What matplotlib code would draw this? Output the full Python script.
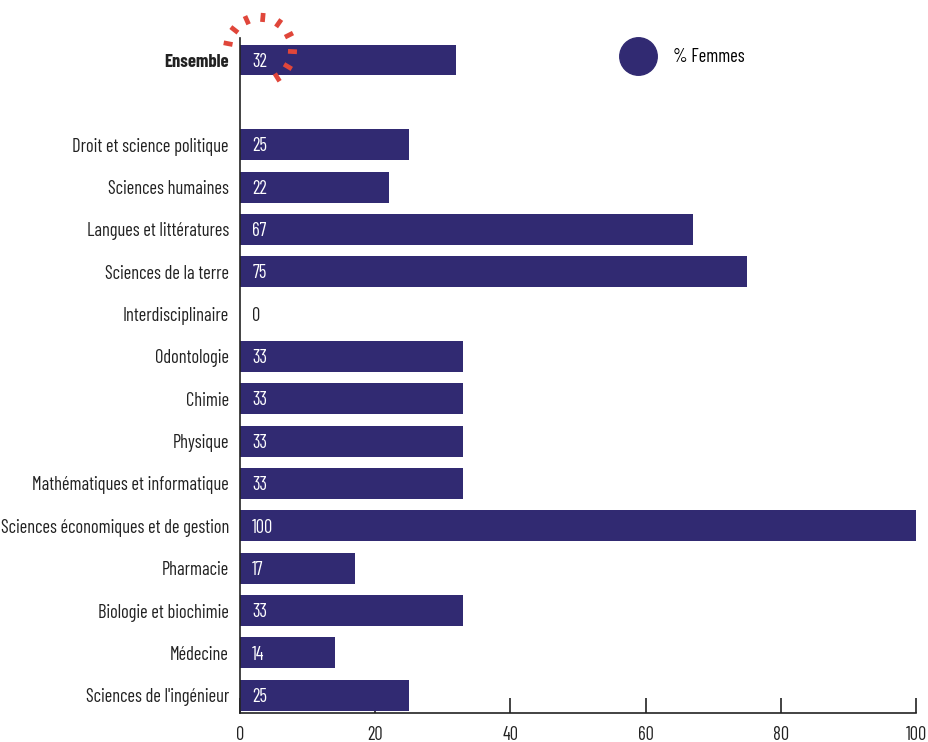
import matplotlib
matplotlib.use("Agg")
import matplotlib.pyplot as plt
from matplotlib.lines import Line2D
import numpy as np

plt.rcParams['font.family'] = ['Barlow Condensed', 'Roboto Condensed', 'DejaVu Sans']

categories = ["Ensemble", "",
              "Droit et science politique", "Sciences humaines", "Langues et littératures",
              "Sciences de la terre", "Interdisciplinaire", "Odontologie", "Chimie",
              "Physique", "Mathématiques et informatique", "Sciences économiques et de gestion",
              "Pharmacie", "Biologie et biochimie", "Médecine", "Sciences de l'ingénieur"]
values = [32, None, 25, 22, 67, 75, 0, 33, 33, 33, 33, 100, 17, 33, 14, 25]
xticks = [0, 20, 40, 60, 80, 100]
legend_label = "% Femmes"

bar_color = "#312a72"
red = "#e0463a"
text_color = "#222222"
fs = 13.3

fig = plt.figure(figsize=(9.29, 7.42), dpi=100)
ax = fig.add_axes([240/929, 1-713/742, (916-240)/929, (713-38)/742])

pos = np.arange(len(categories))
for p, v in zip(pos, values):
    if v is None:
        continue
    ax.barh(p, v, height=0.73, color=bar_color, zorder=2)
    ax.text(1.8, p + 0.04, f"{v}", color=("white" if v > 0 else text_color),
            fontsize=fs, va="center", ha="left", zorder=3)

ax.set_ylim(15.42, -0.52)
ax.set_xlim(0, 100)
ax.set_yticks([p for p, v in zip(pos, values) if v is not None])
ax.set_yticklabels([c for c, v in zip(categories, values) if v is not None])
for lbl in ax.get_yticklabels():
    lbl.set_fontsize(fs)
    lbl.set_color(text_color)
    if lbl.get_text() == "Ensemble":
        lbl.set_fontweight("bold")
ax.tick_params(axis="y", length=0, pad=8)
ax.set_xticks(xticks)
ax.set_xticklabels([str(t) for t in xticks])
ax.tick_params(axis="x", direction="in", length=11, width=1.2, color=text_color,
               labelsize=fs, pad=9, labelcolor=text_color)
for s in ["top", "right"]:
    ax.spines[s].set_visible(False)
for s in ["left", "bottom"]:
    ax.spines[s].set_linewidth(1.2)
    ax.spines[s].set_color(text_color)

# legend
h = Line2D([], [], marker="o", linestyle="none", markersize=27,
           markerfacecolor=bar_color, markeredgecolor=bar_color)
ax.legend([h], [legend_label], loc="center left", bbox_to_anchor=(0.551, 1 - (57-38)/675),
          frameon=False, fontsize=fs, handletextpad=0.85, borderaxespad=0)

# red dashed arc decoration around "Ensemble" value
fig.canvas.draw()
cx, cy = ax.transData.transform((2.96, -0.24))
r_in, r_out = 28, 37
for ang in [169, 142, 114, 85, 55, 27, -3, -31, -58]:
    a = np.deg2rad(ang)
    xs = [cx + r_in*np.cos(a), cx + r_out*np.cos(a)]
    ys = [cy + r_in*np.sin(a), cy + r_out*np.sin(a)]
    fig.add_artist(Line2D(xs, ys, transform=None, color=red, linewidth=3.4,
                          solid_capstyle="butt", zorder=5))

fig.savefig("out.png", dpi=100)
